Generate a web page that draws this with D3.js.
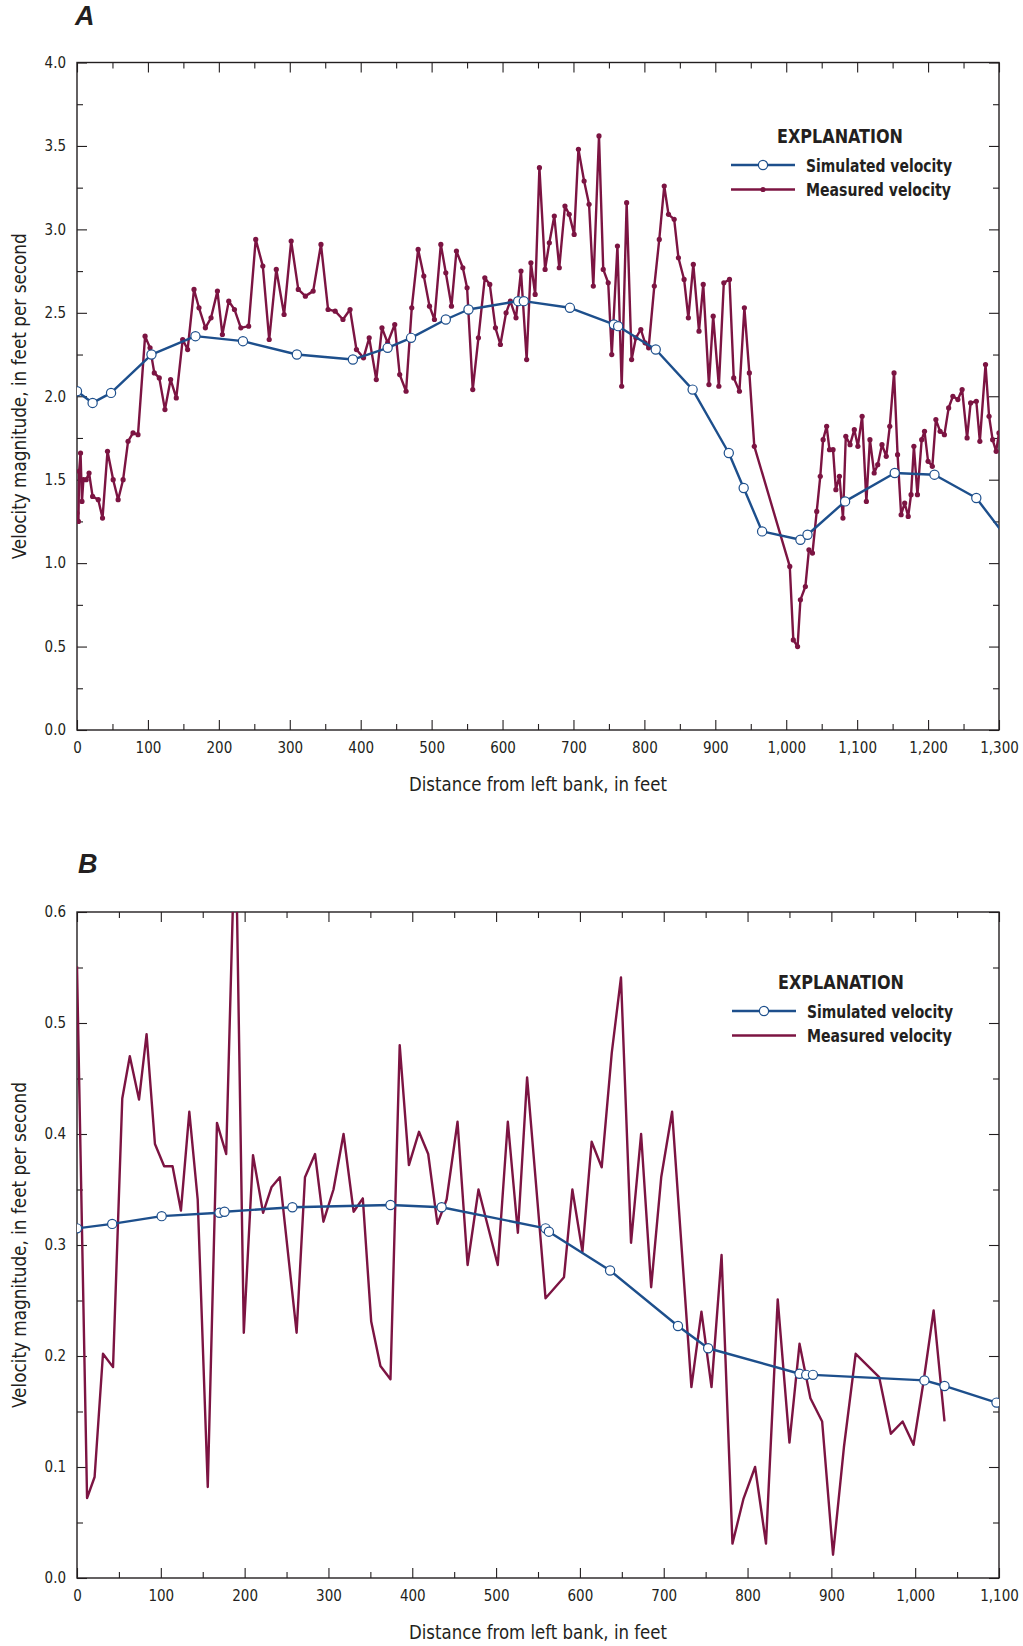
<!DOCTYPE html>
<html><head><meta charset="utf-8">
<script src="https://cdn.jsdelivr.net/npm/d3@7"></script>
<style>
body{margin:0;background:#fff;}
svg text{font-family:"Liberation Sans Narrow","Arial Narrow","DejaVu Sans Condensed",sans-serif;fill:#231f20;}
</style></head><body>
<svg id="chart" width="1023" height="1646"></svg>
<script>
// ---------------- DATA ----------------
const aXTicks = [0,100,200,300,400,500,600,700,800,900,1000,1100,1200,1300];
const aYTicks = [0,0.5,1,1.5,2,2.5,3,3.5,4];
const bXTicks = [0,100,200,300,400,500,600,700,800,900,1000,1100];
const bYTicks = [0,0.1,0.2,0.3,0.4,0.5,0.6];
const xTitle = "Distance from left bank, in feet";
const yTitle = "Velocity magnitude, in feet per second";
const legendTitle = "EXPLANATION";
const seriesNames = ["Simulated velocity","Measured velocity"];
const panelLetters = ["A","B"];

const aSimulated = [[0,2.03],[22,1.96],[48,2.02],[105,2.25],[167,2.36],[234,2.33],[310,2.25],[389,2.22],[438,2.29],[471,2.35],[520,2.46],[552,2.52],[622,2.57],[630,2.57],[695,2.53],[757,2.43],[763,2.42],[816,2.28],[868,2.04],[919,1.66],[940,1.45],[966,1.19],[1020,1.14],[1030,1.17],[1083,1.37],[1153,1.54],[1209,1.53],[1268,1.39],[1320,1.10]];

const aMeasured = [[0,1.30],[2,1.25],[3,1.55],[5,1.66],[7,1.37],[9,1.50],[13,1.50],[17,1.54],[22,1.40],[30,1.38],[36,1.27],[43,1.67],[51,1.50],[58,1.38],[65,1.50],[72,1.73],[79,1.78],[86,1.77],[96,2.36],[103,2.29],[109,2.14],[116,2.11],[124,1.92],[132,2.10],[140,1.99],[149,2.34],[156,2.28],[165,2.64],[172,2.53],[181,2.41],[189,2.47],[198,2.63],[205,2.37],[214,2.57],[222,2.52],[231,2.41],[242,2.42],[252,2.94],[262,2.78],[271,2.34],[281,2.76],[292,2.49],[302,2.93],[312,2.64],[322,2.60],[333,2.63],[344,2.91],[354,2.52],[364,2.51],[375,2.46],[385,2.52],[394,2.28],[404,2.23],[412,2.35],[422,2.10],[430,2.41],[438,2.32],[448,2.43],[455,2.13],[464,2.03],[472,2.53],[481,2.88],[489,2.72],[497,2.54],[504,2.46],[513,2.91],[520,2.74],[528,2.54],[535,2.87],[544,2.77],[550,2.65],[558,2.04],[566,2.35],[575,2.71],[582,2.67],[590,2.41],[597,2.31],[605,2.50],[611,2.57],[619,2.47],[626,2.75],[634,2.22],[640,2.80],[646,2.61],[652,3.37],[660,2.76],[666,2.92],[673,3.08],[680,2.77],[688,3.14],[694,3.09],[701,2.97],[707,3.48],[715,3.29],[722,3.15],[728,2.66],[736,3.56],[742,2.76],[749,2.68],[754,2.25],[762,2.90],[768,2.06],[775,3.16],[782,2.22],[788,2.35],[795,2.40],[801,2.32],[806,2.29],[814,2.66],[821,2.94],[828,3.26],[834,3.09],[842,3.06],[848,2.83],[856,2.70],[862,2.47],[869,2.79],[877,2.39],[883,2.67],[891,2.07],[897,2.48],[905,2.06],[912,2.68],[920,2.70],[926,2.11],[934,2.03],[941,2.53],[948,2.14],[955,1.70],[1005,0.98],[1010,0.54],[1016,0.50],[1020,0.78],[1027,0.86],[1032,1.08],[1037,1.06],[1043,1.31],[1048,1.52],[1052,1.74],[1057,1.82],[1061,1.68],[1066,1.68],[1070,1.44],[1075,1.52],[1080,1.27],[1084,1.76],[1090,1.71],[1096,1.80],[1101,1.70],[1107,1.88],[1113,1.37],[1118,1.74],[1124,1.54],[1129,1.59],[1135,1.71],[1141,1.64],[1146,1.82],[1152,2.14],[1157,1.65],[1162,1.29],[1167,1.36],[1172,1.28],[1176,1.41],[1180,1.70],[1185,1.41],[1191,1.74],[1195,1.79],[1200,1.61],[1206,1.58],[1211,1.86],[1217,1.79],[1223,1.77],[1229,1.93],[1235,2.00],[1242,1.98],[1248,2.04],[1255,1.75],[1260,1.96],[1268,1.97],[1273,1.73],[1281,2.19],[1286,1.88],[1291,1.74],[1296,1.67],[1300,1.78]];

const bSimulated = [[0,0.315],[42,0.319],[101,0.326],[170,0.329],[176,0.330],[257,0.334],[374,0.336],[435,0.334],[559,0.315],[563,0.312],[636,0.277],[717,0.227],[753,0.207],[862,0.184],[870,0.183],[878,0.183],[1011,0.178],[1035,0.173],[1097,0.158]];

const bMeasured = [[0,0.551],[12,0.072],[21,0.091],[31,0.202],[43,0.190],[54,0.432],[63,0.470],[74,0.431],[83,0.490],[93,0.391],[104,0.371],[114,0.371],[124,0.331],[134,0.420],[144,0.341],[156,0.082],[167,0.410],[178,0.382],[189,0.690],[199,0.221],[210,0.381],[222,0.329],[232,0.352],[242,0.361],[262,0.221],[272,0.361],[284,0.382],[294,0.321],[306,0.350],[318,0.400],[330,0.330],[341,0.342],[351,0.231],[362,0.191],[374,0.179],[385,0.480],[396,0.372],[408,0.402],[419,0.382],[430,0.319],[441,0.341],[454,0.411],[466,0.282],[479,0.350],[502,0.282],[514,0.411],[526,0.311],[537,0.451],[559,0.252],[581,0.271],[591,0.350],[603,0.294],[614,0.393],[626,0.370],[638,0.473],[649,0.541],[661,0.302],[673,0.400],[685,0.262],[697,0.361],[710,0.420],[733,0.172],[745,0.240],[757,0.172],[769,0.291],[782,0.031],[795,0.071],[809,0.100],[822,0.031],[836,0.251],[850,0.122],[862,0.211],[875,0.162],[889,0.141],[902,0.021],[915,0.118],[929,0.202],[957,0.181],[971,0.130],[985,0.141],[998,0.120],[1010,0.177],[1022,0.241],[1035,0.141]];

// ---------------- STYLE ----------------
const BLUE = "#1d4f8c", MAROON = "#7c1442", INK = "#231f20";

const svg = d3.select("#chart");

function fitText(sel, len) {
  return sel.attr("textLength", len).attr("lengthAdjust", "spacingAndGlyphs");
}

function drawPanel(p) {
  const x = d3.scaleLinear().domain(p.xDomain).range([77, 999]);
  const y = d3.scaleLinear().domain(p.yDomain).range([p.bottom, p.top]);
  const g = svg.append("g");
  const clipId = "clip" + p.letter;
  svg.append("clipPath").attr("id", clipId).append("rect")
    .attr("x", 77).attr("y", p.top).attr("width", 922).attr("height", p.bottom - p.top);

  const xMinor = p.xTicks.slice(0, -1).map((d, i) => (d + p.xTicks[i + 1]) / 2);
  const yMinor = p.yTicks.slice(0, -1).map((d, i) => (d + p.yTicks[i + 1]) / 2);

  const style = sel => {
    sel.select(".domain").remove();
    sel.selectAll(".tick line").attr("stroke", INK).attr("stroke-width", 1.1);
    sel.selectAll(".tick text").style("font-size", "15px").attr("fill", INK);
  };
  // bottom
  g.append("g").attr("transform", `translate(0,${p.bottom})`)
    .call(d3.axisBottom(x).tickValues(p.xTicks).tickSize(-10).tickPadding(12).tickFormat(d3.format(","))).call(style);
  g.append("g").attr("transform", `translate(0,${p.bottom})`)
    .call(d3.axisBottom(x).tickValues(xMinor).tickSize(-6).tickFormat("")).call(style);
  // top
  g.append("g").attr("transform", `translate(0,${p.top})`)
    .call(d3.axisTop(x).tickValues(p.xTicks).tickSize(-10).tickFormat("")).call(style);
  g.append("g").attr("transform", `translate(0,${p.top})`)
    .call(d3.axisTop(x).tickValues(xMinor).tickSize(-6).tickFormat("")).call(style);
  // left
  g.append("g").attr("transform", `translate(77,0)`)
    .call(d3.axisLeft(y).tickValues(p.yTicks).tickSize(-10).tickPadding(11).tickFormat(d3.format(".1f"))).call(style);
  g.append("g").attr("transform", `translate(77,0)`)
    .call(d3.axisLeft(y).tickValues(yMinor).tickSize(-6).tickFormat("")).call(style);
  // right
  g.append("g").attr("transform", `translate(999,0)`)
    .call(d3.axisRight(y).tickValues(p.yTicks).tickSize(-10).tickFormat("")).call(style);
  g.append("g").attr("transform", `translate(999,0)`)
    .call(d3.axisRight(y).tickValues(yMinor).tickSize(-6).tickFormat("")).call(style);

  // frame
  g.append("rect").attr("x", 77).attr("y", p.top).attr("width", 922).attr("height", p.bottom - p.top)
    .attr("fill", "none").attr("stroke", INK).attr("stroke-width", 1.4);

  // data
  const line = d3.line().x(d => x(d[0])).y(d => y(d[1]));
  const data = g.append("g").attr("clip-path", `url(#${clipId})`);
  data.append("path").datum(p.meas).attr("d", line).attr("fill", "none")
    .attr("stroke", MAROON).attr("stroke-width", 2.4).attr("stroke-linejoin", "round");
  if (p.dots) {
    data.selectAll("circle.m").data(p.meas).join("circle").attr("class", "m")
      .attr("cx", d => x(d[0])).attr("cy", d => y(d[1])).attr("r", 2.6).attr("fill", MAROON);
  }
  data.append("path").datum(p.sim).attr("d", line).attr("fill", "none")
    .attr("stroke", BLUE).attr("stroke-width", 2.4).attr("stroke-linejoin", "round");
  data.selectAll("circle.s").data(p.sim).join("circle").attr("class", "s")
    .attr("cx", d => x(d[0])).attr("cy", d => y(d[1])).attr("r", 4.6)
    .attr("fill", "#fff").attr("stroke", BLUE).attr("stroke-width", 1.2);

  // titles
  g.append("text").attr("x", 538).attr("y", p.bottom + 61).attr("text-anchor", "middle")
    .style("font-size", "20px").call(fitText, 258).text(xTitle);
  g.append("text").attr("transform", `translate(26,${(p.top + p.bottom) / 2}) rotate(-90)`)
    .attr("text-anchor", "middle").style("font-size", "20px").call(fitText, 326).text(yTitle);
  g.append("text").attr("x", p.letterX).attr("y", p.letterY)
    .style("font-family", "'Liberation Sans',Arial,sans-serif").style("font-weight", "bold").style("font-style", "italic")
    .style("font-size", "27px").text(p.letter);

  // legend
  const lg = g.append("g").attr("transform", `translate(${p.legX},${p.legY})`);
  lg.append("text").attr("x", 0).attr("y", 0)
    .style("font-weight", "bold").style("font-size", "20px").call(fitText, 126).text(legendTitle);
  const rows = [{c: BLUE, name: seriesNames[0], sim: true, w: 146}, {c: MAROON, name: seriesNames[1], sim: false, w: 145}];
  rows.forEach((r, i) => {
    const ly = 22 + i * 24.5;
    lg.append("line").attr("x1", -46).attr("x2", 18).attr("y1", ly).attr("y2", ly)
      .attr("stroke", r.c).attr("stroke-width", 2.4);
    if (r.sim) {
      lg.append("circle").attr("cx", -14).attr("cy", ly).attr("r", 4.6)
        .attr("fill", "#fff").attr("stroke", BLUE).attr("stroke-width", 1.2);
    } else if (p.dots) {
      lg.append("circle").attr("cx", -14).attr("cy", ly).attr("r", 2.6).attr("fill", MAROON);
    }
    lg.append("text").attr("x", 29).attr("y", ly + 6.5)
      .style("font-weight", "bold").style("font-size", "17px").call(fitText, r.w).text(r.name);
  });
}

drawPanel({letter: panelLetters[0], xDomain: [0, 1300], yDomain: [0, 4], top: 62.5, bottom: 730,
  xTicks: aXTicks, yTicks: aYTicks, sim: aSimulated, meas: aMeasured, dots: true,
  letterX: 75, letterY: 25, legX: 777, legY: 143});
drawPanel({letter: panelLetters[1], xDomain: [0, 1100], yDomain: [0, 0.6], top: 912, bottom: 1578,
  xTicks: bXTicks, yTicks: bYTicks, sim: bSimulated, meas: bMeasured, dots: false,
  letterX: 78, letterY: 873, legX: 778, legY: 989});
</script>
</body></html>
